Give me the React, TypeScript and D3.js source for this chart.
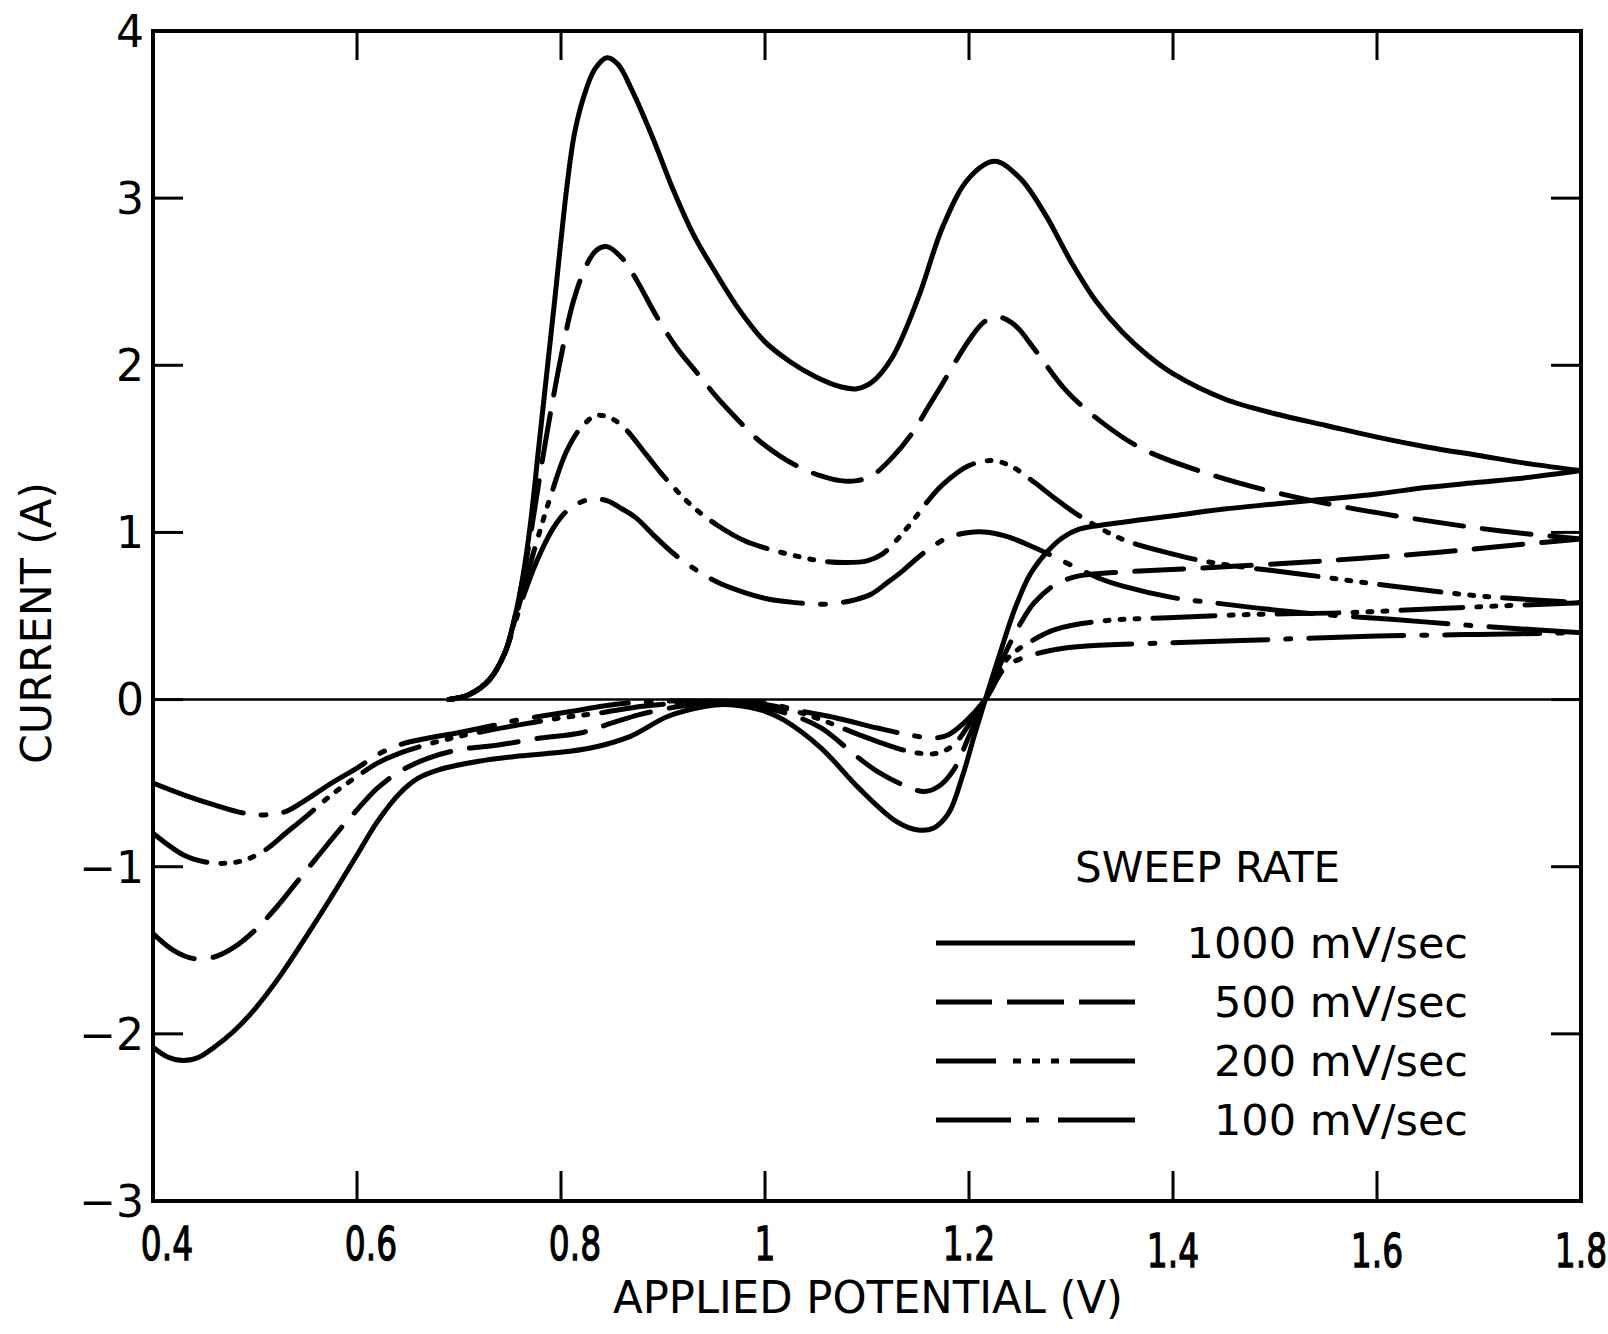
import React from "react";
import * as d3 from "d3";

type Pt = [number, number];

// ---------- data ----------
const xTicks = [0.4, 0.6, 0.8, 1.0, 1.2, 1.4, 1.6, 1.8];
const xTickLabels = ["0.4", "0.6", "0.8", "1", "1.2", "1.4", "1.6", "1.8"];
const yTicks = [-3, -2, -1, 0, 1, 2, 3, 4];
const yTickLabels = ["−3", "−2", "−1", "0", "1", "2", "3", "4"];
const rateLabels = ["1000 mV/sec", "500 mV/sec", "200 mV/sec", "100 mV/sec"];

// forward (anodic) sweeps
const fwd1000: Pt[] = [
  [0.69, 0], [0.71, 0.03], [0.73, 0.12], [0.745, 0.28], [0.755, 0.5], [0.763, 0.75],
  [0.77, 1.05], [0.778, 1.5], [0.786, 1.95], [0.794, 2.4], [0.8, 2.75], [0.806, 3.08],
  [0.813, 3.38], [0.822, 3.6], [0.833, 3.77], [0.845, 3.84], [0.856, 3.8], [0.87, 3.64],
  [0.89, 3.36], [0.91, 3.05], [0.93, 2.78], [0.95, 2.57], [0.975, 2.33], [1.0, 2.14],
  [1.025, 2.02], [1.05, 1.93], [1.075, 1.87], [1.09, 1.86], [1.105, 1.9], [1.125, 2.05],
  [1.15, 2.4], [1.175, 2.84], [1.2, 3.12], [1.225, 3.22], [1.25, 3.12], [1.275, 2.9],
  [1.3, 2.62], [1.325, 2.38], [1.35, 2.2], [1.375, 2.06], [1.4, 1.95], [1.45, 1.8],
  [1.5, 1.71], [1.55, 1.64], [1.6, 1.57], [1.65, 1.51], [1.7, 1.46], [1.75, 1.41], [1.8, 1.37],
];
const fwd500: Pt[] = [
  [0.69, 0], [0.71, 0.03], [0.73, 0.12], [0.745, 0.28], [0.755, 0.5], [0.763, 0.73],
  [0.77, 0.98], [0.785, 1.55], [0.8, 2.05], [0.812, 2.38], [0.825, 2.6], [0.835, 2.69],
  [0.845, 2.71], [0.86, 2.64], [0.875, 2.5], [0.893, 2.3], [0.914, 2.1], [0.934, 1.95],
  [0.954, 1.8], [0.974, 1.67], [0.994, 1.55], [1.014, 1.46], [1.034, 1.39], [1.054, 1.34],
  [1.074, 1.31], [1.09, 1.31], [1.105, 1.34], [1.125, 1.45], [1.145, 1.6], [1.16, 1.75],
  [1.175, 1.9], [1.2, 2.15], [1.215, 2.26], [1.228, 2.29], [1.245, 2.24], [1.265, 2.09],
  [1.295, 1.85], [1.33, 1.66], [1.37, 1.5], [1.44, 1.34], [1.5, 1.24], [1.57, 1.15],
  [1.66, 1.06], [1.72, 1.01], [1.8, 0.96],
];
const fwd200: Pt[] = [
  [0.69, 0], [0.71, 0.03], [0.73, 0.12], [0.745, 0.28], [0.755, 0.48], [0.765, 0.7],
  [0.775, 0.92], [0.79, 1.22], [0.805, 1.48], [0.82, 1.63], [0.835, 1.7], [0.85, 1.68],
  [0.863, 1.62], [0.883, 1.47], [0.903, 1.32], [0.93, 1.15], [0.954, 1.04], [0.98, 0.95],
  [1.004, 0.9], [1.03, 0.86], [1.054, 0.83], [1.08, 0.82], [1.1, 0.83], [1.115, 0.87],
  [1.13, 0.96], [1.145, 1.07], [1.16, 1.19], [1.175, 1.29], [1.2, 1.4], [1.222, 1.43],
  [1.24, 1.4], [1.264, 1.3], [1.285, 1.2], [1.308, 1.1], [1.35, 0.96], [1.4, 0.87],
  [1.438, 0.82], [1.526, 0.75], [1.614, 0.68], [1.7, 0.62], [1.8, 0.58],
];
const fwd100: Pt[] = [
  [0.69, 0], [0.71, 0.03], [0.73, 0.12], [0.745, 0.28], [0.755, 0.46], [0.765, 0.65],
  [0.78, 0.88], [0.795, 1.05], [0.81, 1.15], [0.83, 1.2], [0.845, 1.19], [0.86, 1.14],
  [0.873, 1.09], [0.893, 0.97], [0.913, 0.86], [0.934, 0.77], [0.954, 0.7], [0.98, 0.64],
  [1.004, 0.6], [1.03, 0.58], [1.054, 0.57], [1.074, 0.58], [1.09, 0.6], [1.104, 0.63],
  [1.12, 0.7], [1.135, 0.77], [1.15, 0.85], [1.165, 0.92], [1.18, 0.97], [1.2, 1.0],
  [1.22, 1.0], [1.24, 0.97], [1.264, 0.91], [1.285, 0.85], [1.308, 0.78], [1.33, 0.72],
  [1.35, 0.68], [1.4, 0.61], [1.438, 0.58], [1.526, 0.52], [1.614, 0.48], [1.7, 0.44], [1.8, 0.4],
];

// reverse (return) sweeps, listed by increasing potential
const rev1000: Pt[] = [
  [0.4, -2.08], [0.415, -2.14], [0.43, -2.16], [0.445, -2.14], [0.46, -2.08], [0.48, -1.98],
  [0.5, -1.85], [0.525, -1.65], [0.55, -1.42], [0.575, -1.18], [0.6, -0.93], [0.62, -0.73],
  [0.642, -0.56], [0.66, -0.47], [0.68, -0.42], [0.718, -0.37], [0.755, -0.34], [0.792, -0.32],
  [0.829, -0.29], [0.868, -0.22], [0.905, -0.1], [0.942, -0.04], [0.96, -0.03], [0.979, -0.04],
  [1.0, -0.07], [1.018, -0.12], [1.055, -0.29], [1.092, -0.53], [1.129, -0.73], [1.15, -0.78],
  [1.165, -0.77], [1.18, -0.68], [1.194, -0.45], [1.205, -0.22], [1.216, 0], [1.23, 0.27],
  [1.246, 0.56], [1.26, 0.75], [1.276, 0.88], [1.292, 0.97], [1.308, 1.02], [1.338, 1.05],
  [1.4, 1.1], [1.45, 1.14], [1.5, 1.17], [1.55, 1.2], [1.6, 1.23], [1.65, 1.27], [1.7, 1.3],
  [1.75, 1.33], [1.8, 1.37],
];
const rev500: Pt[] = [
  [0.4, -1.4], [0.42, -1.5], [0.44, -1.55], [0.46, -1.54], [0.48, -1.48], [0.5, -1.38],
  [0.52, -1.25], [0.54, -1.1], [0.56, -0.95], [0.58, -0.8], [0.6, -0.66], [0.62, -0.53],
  [0.642, -0.43], [0.67, -0.35], [0.7, -0.3], [0.74, -0.27], [0.78, -0.23], [0.819, -0.2],
  [0.85, -0.14], [0.877, -0.09], [0.917, -0.04], [0.95, -0.02], [0.98, -0.03], [1.0, -0.05],
  [1.03, -0.1], [1.055, -0.17], [1.092, -0.35], [1.11, -0.43], [1.135, -0.51], [1.156, -0.55],
  [1.17, -0.52], [1.185, -0.42], [1.2, -0.22], [1.216, 0], [1.232, 0.23], [1.25, 0.45],
  [1.264, 0.58], [1.285, 0.69], [1.308, 0.74], [1.342, 0.76], [1.438, 0.79], [1.548, 0.83],
  [1.658, 0.88], [1.745, 0.93], [1.8, 0.96],
];
const rev200: Pt[] = [
  [0.4, -0.8], [0.43, -0.93], [0.45, -0.97], [0.47, -0.98], [0.49, -0.96], [0.51, -0.9],
  [0.53, -0.8], [0.55, -0.7], [0.575, -0.57], [0.6, -0.46], [0.62, -0.38], [0.642, -0.32],
  [0.68, -0.25], [0.716, -0.2], [0.76, -0.15], [0.8, -0.11], [0.838, -0.08], [0.88, -0.04],
  [0.917, -0.02], [0.95, -0.01], [0.98, -0.02], [1.0, -0.03], [1.03, -0.07], [1.055, -0.12],
  [1.092, -0.21], [1.129, -0.29], [1.15, -0.32], [1.17, -0.32], [1.185, -0.27], [1.2, -0.15],
  [1.216, 0], [1.237, 0.24], [1.264, 0.36], [1.285, 0.42], [1.33, 0.47], [1.395, 0.49],
  [1.482, 0.51], [1.57, 0.52], [1.68, 0.55], [1.8, 0.58],
];
const rev100: Pt[] = [
  [0.4, -0.5], [0.43, -0.57], [0.46, -0.63], [0.49, -0.68], [0.51, -0.69], [0.53, -0.67],
  [0.55, -0.6], [0.575, -0.5], [0.6, -0.41], [0.62, -0.33], [0.642, -0.27], [0.67, -0.23],
  [0.698, -0.2], [0.73, -0.16], [0.751, -0.13], [0.78, -0.1], [0.811, -0.07], [0.84, -0.04],
  [0.868, -0.02], [0.9, -0.01], [0.95, -0.01], [1.0, -0.02], [1.036, -0.07], [1.07, -0.11],
  [1.11, -0.17], [1.14, -0.21], [1.166, -0.23], [1.18, -0.21], [1.195, -0.14], [1.216, 0],
  [1.237, 0.2], [1.264, 0.27], [1.285, 0.3], [1.315, 0.32], [1.4, 0.34], [1.5, 0.36],
  [1.6, 0.38], [1.7, 0.39], [1.8, 0.4],
];

// ---------- styling ----------
const plotDash = ["", "49 19", "62 14 4 11 4 11 4 14", "95 18 5 18"];
const legendDash = ["", "56 15 57 15 56", "60 17 8 11 8 11 8 11 65", "75 15 13 19 77"];

const W = 1608;
const H = 1334;
const L = 153, R = 1581, T = 31, B = 1201;

export default function App() {
  const x = d3.scaleLinear().domain([0.4, 1.8]).range([L, R]);
  const y = d3.scaleLinear().domain([-3, 4]).range([B, T]);
  const line = d3
    .line<Pt>()
    .x((d) => x(d[0]))
    .y((d) => y(d[1]))
    .curve(d3.curveCatmullRom.alpha(0.5));

  const series = [
    { fwd: fwd1000, rev: rev1000 },
    { fwd: fwd500, rev: rev500 },
    { fwd: fwd200, rev: rev200 },
    { fwd: fwd100, rev: rev100 },
  ];

  const font = "'DejaVu Sans', 'Liberation Sans', sans-serif";
  const legendRowY = [943, 1002, 1061, 1120];

  return (
    <svg
      width={W}
      height={H}
      viewBox={`0 0 ${W} ${H}`}
      style={{ position: "absolute", left: 0, top: 0, background: "#fff" }}
    >
      <rect x={0} y={0} width={W} height={H} fill="#fff" />
      <defs>
        <clipPath id="plotClip">
          <rect x={L} y={T} width={R - L} height={B - T} />
        </clipPath>
      </defs>

      {/* zero line */}
      <line x1={L} x2={R} y1={y(0)} y2={y(0)} stroke="#000" strokeWidth={2.6} />

      {/* curves */}
      <g clipPath="url(#plotClip)" fill="none" stroke="#000" strokeWidth={5} strokeLinecap="round" strokeLinejoin="round">
        {series.map((s, i) => (
          <g key={i}>
            <path d={line(s.fwd) || ""} strokeDasharray={plotDash[i] || undefined} />
            <path d={line(s.rev) || ""} strokeDasharray={plotDash[i] || undefined} />
          </g>
        ))}
      </g>

      {/* ticks */}
      <g stroke="#000" strokeWidth={3}>
        {xTicks.slice(1, -1).map((t) => (
          <g key={"xt" + t}>
            <line x1={x(t)} x2={x(t)} y1={B} y2={B - 30} />
            <line x1={x(t)} x2={x(t)} y1={T} y2={T + 29} />
          </g>
        ))}
        {yTicks.slice(1, -1).map((t) => (
          <g key={"yt" + t}>
            <line x1={L} x2={L + 30} y1={y(t)} y2={y(t)} />
            <line x1={R} x2={R - 30} y1={y(t)} y2={y(t)} />
          </g>
        ))}
      </g>

      {/* frame */}
      <rect x={L} y={T} width={R - L} height={B - T} fill="none" stroke="#000" strokeWidth={4} />

      {/* y tick labels */}
      <g fontFamily={font} fontSize={44} fill="#000" textAnchor="end">
        {yTicks.map((t, i) => (
          <text key={"yl" + t} x={144} y={y(t)} dy="0.36em">
            {yTickLabels[i]}
          </text>
        ))}
      </g>

      {/* x tick labels (condensed lettering) */}
      <g fontFamily={font} fontSize={47} fill="#000" stroke="#000" strokeWidth={1.3} textAnchor="middle">
        {xTicks.map((t, i) => (
          <text
            key={"xl" + t}
            transform={`translate(${x(t) + (t < 1 ? 14 : 0)}, ${t >= 1.4 ? 1267 : 1260}) scale(0.7,1)`}
          >
            {xTickLabels[i]}
          </text>
        ))}
      </g>

      {/* axis titles */}
      <text
        x={868}
        y={1313}
        fontFamily={font}
        fontSize={45}
        textAnchor="middle"
        textLength={510}
        lengthAdjust="spacingAndGlyphs"
      >
        APPLIED POTENTIAL (V)
      </text>
      <text
        transform="translate(51, 623) rotate(-90)"
        fontFamily={font}
        fontSize={43}
        textAnchor="middle"
        textLength={282}
        lengthAdjust="spacingAndGlyphs"
      >
        CURRENT (A)
      </text>

      {/* legend */}
      <text x={1075} y={882} fontFamily={font} fontSize={42}>
        SWEEP RATE
      </text>
      {rateLabels.map((lab, i) => (
        <g key={lab}>
          <line
            x1={936}
            x2={1135}
            y1={legendRowY[i]}
            y2={legendRowY[i]}
            stroke="#000"
            strokeWidth={5}
            strokeDasharray={legendDash[i] || undefined}
          />
          <text x={1468} y={legendRowY[i]} dy="0.36em" fontFamily={font} fontSize={43} textAnchor="end">
            {lab}
          </text>
        </g>
      ))}
    </svg>
  );
}
